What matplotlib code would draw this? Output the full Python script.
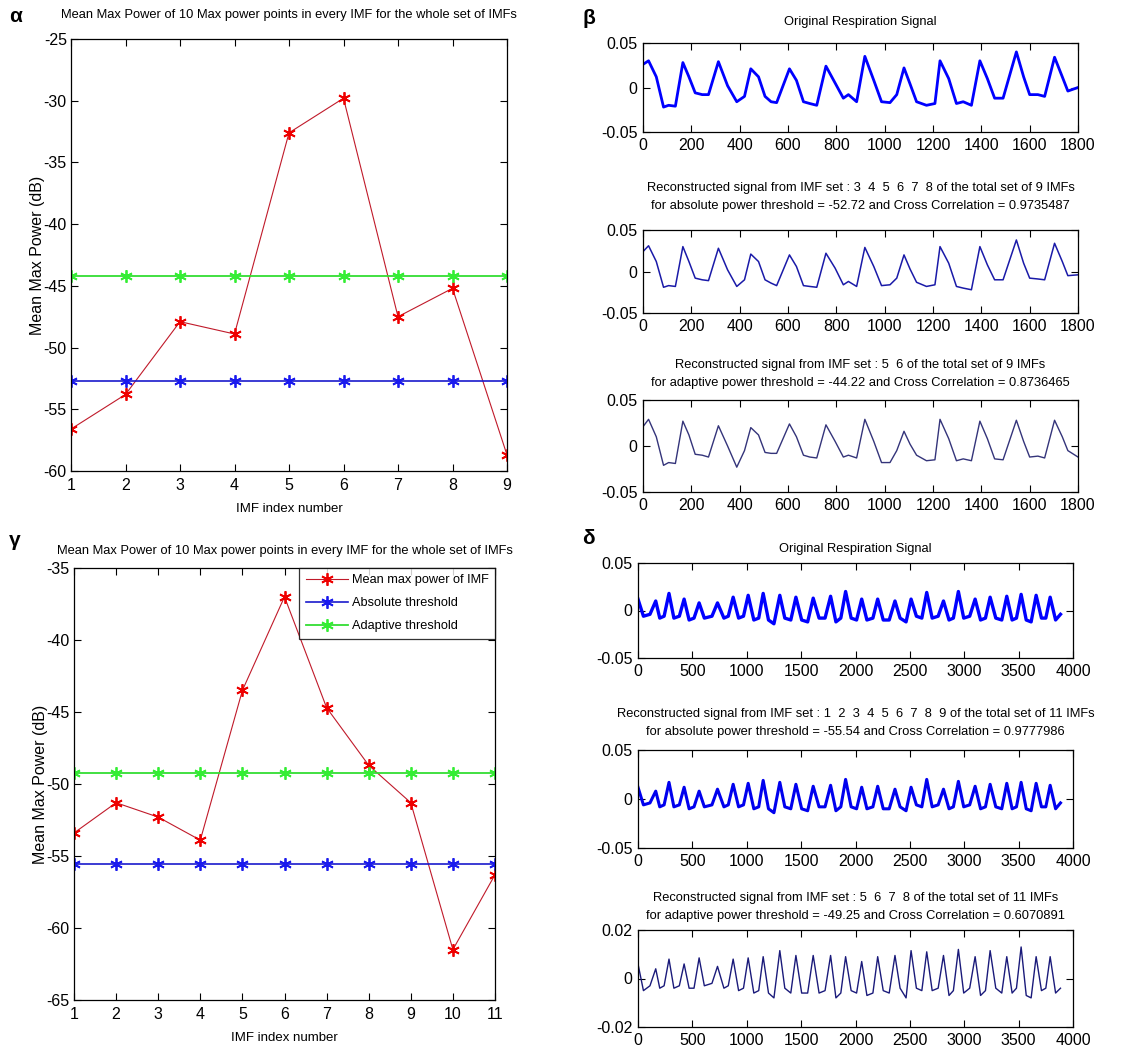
import matplotlib
matplotlib.use('Agg')
import matplotlib.pyplot as plt

plt.rcParams['font.family'] = ['Liberation Sans', 'DejaVu Sans']
plt.rcParams['axes.unicode_minus'] = False

# --- power panels (alpha / gamma) ---
imf_a = [1, 2, 3, 4, 5, 6, 7, 8, 9]
pow_a = [-56.6, -53.8, -47.9, -48.9, -32.6, -29.8, -47.5, -45.2, -58.7]
abs_a = -52.72
ada_a = -44.22

imf_g = [1, 2, 3, 4, 5, 6, 7, 8, 9, 10, 11]
pow_g = [-53.4, -51.3, -52.3, -53.9, -43.5, -37.0, -44.7, -48.7, -51.3, -61.5, -56.3]
abs_g = -55.54
ada_g = -49.25

# --- respiration signals, beta (read at shape features) ---
b_x = [0, 23, 55, 85, 106, 134, 165, 190, 216, 245, 271, 312, 350, 388, 420, 446,
       478, 505, 530, 553, 606, 635, 664, 690, 719, 757, 795, 829, 850, 884, 918,
       955, 987, 1022, 1050, 1080, 1105, 1132, 1173, 1208, 1229, 1265, 1297, 1325,
       1359, 1394, 1425, 1455, 1490, 1545, 1575, 1600, 1634, 1662, 1703, 1735, 1758, 1800]
b_orig = [0.026, 0.030, 0.012, -0.022, -0.020, -0.021, 0.028, 0.012, -0.006, -0.008,
          -0.008, 0.029, 0.002, -0.016, -0.010, 0.021, 0.012, -0.010, -0.016, -0.017,
          0.021, 0.008, -0.016, -0.018, -0.020, 0.024, 0.005, -0.012, -0.008, -0.016,
          0.035, 0.008, -0.016, -0.017, -0.008, 0.022, 0.004, -0.016, -0.020, -0.018,
          0.030, 0.010, -0.018, -0.016, -0.020, 0.030, 0.010, -0.012, -0.012, 0.040,
          0.012, -0.008, -0.008, -0.010, 0.034, 0.012, -0.004, 0.000]
b_abs = [0.024, 0.031, 0.012, -0.019, -0.017, -0.018, 0.030, 0.012, -0.008, -0.010,
         -0.011, 0.028, 0.002, -0.018, -0.010, 0.021, 0.012, -0.010, -0.014, -0.017,
         0.020, 0.006, -0.017, -0.018, -0.019, 0.022, 0.004, -0.016, -0.012, -0.018,
         0.029, 0.006, -0.017, -0.016, -0.008, 0.020, 0.003, -0.013, -0.018, -0.016,
         0.030, 0.010, -0.018, -0.020, -0.022, 0.030, 0.008, -0.010, -0.010, 0.038,
         0.010, -0.008, -0.009, -0.010, 0.034, 0.012, -0.005, -0.004]
b_ada = [0.021, 0.029, 0.010, -0.021, -0.018, -0.019, 0.027, 0.012, -0.009, -0.010,
         -0.012, 0.022, 0.000, -0.023, -0.005, 0.020, 0.012, -0.007, -0.008, -0.008,
         0.024, 0.010, -0.010, -0.012, -0.013, 0.023, 0.005, -0.012, -0.010, -0.013,
         0.029, 0.005, -0.018, -0.018, -0.005, 0.016, 0.002, -0.010, -0.016, -0.015,
         0.029, 0.008, -0.016, -0.014, -0.016, 0.027, 0.008, -0.014, -0.015, 0.028,
         0.005, -0.012, -0.011, -0.013, 0.028, 0.010, -0.005, -0.012]

# --- respiration signals, delta ---
d_x = [0, 50, 110, 163, 200, 240, 285, 330, 380, 424, 470, 515, 562, 610, 680, 731,
       790, 830, 875, 925, 970, 1013, 1065, 1110, 1151, 1200, 1250, 1304, 1350, 1405,
       1452, 1505, 1560, 1611, 1665, 1720, 1771, 1820, 1865, 1909, 1960, 2010, 2057,
       2105, 2160, 2204, 2255, 2310, 2363, 2410, 2465, 2511, 2560, 2610, 2655, 2705,
       2760, 2809, 2860, 2900, 2946, 2995, 3050, 3100, 3150, 3195, 3238, 3290, 3345,
       3391, 3440, 3480, 3523, 3570, 3615, 3661, 3710, 3750, 3790, 3840, 3885]
d_orig = [0.012, -0.006, -0.004, 0.010, -0.008, -0.006, 0.018, -0.008, -0.006, 0.012,
          -0.010, -0.008, 0.008, -0.008, -0.006, 0.008, -0.008, -0.006, 0.014, -0.008,
          -0.006, 0.016, -0.010, -0.008, 0.018, -0.010, -0.014, 0.016, -0.008, -0.010,
          0.014, -0.010, -0.012, 0.013, -0.008, -0.008, 0.015, -0.012, -0.008, 0.020,
          -0.008, -0.010, 0.012, -0.010, -0.008, 0.012, -0.010, -0.010, 0.010, -0.008,
          -0.012, 0.012, -0.006, -0.008, 0.019, -0.008, -0.006, 0.010, -0.010, -0.008,
          0.020, -0.008, -0.006, 0.012, -0.010, -0.008, 0.014, -0.008, -0.010, 0.015,
          -0.010, -0.008, 0.017, -0.010, -0.012, 0.016, -0.008, -0.008, 0.014, -0.010, -0.004]
d_abs = [0.012, -0.006, -0.004, 0.008, -0.008, -0.006, 0.017, -0.008, -0.006, 0.012,
         -0.010, -0.008, 0.008, -0.008, -0.006, 0.010, -0.008, -0.006, 0.015, -0.008,
         -0.006, 0.016, -0.010, -0.008, 0.019, -0.010, -0.014, 0.017, -0.008, -0.010,
         0.015, -0.010, -0.012, 0.013, -0.008, -0.008, 0.014, -0.012, -0.008, 0.020,
         -0.008, -0.010, 0.012, -0.010, -0.008, 0.013, -0.010, -0.010, 0.010, -0.008,
         -0.012, 0.012, -0.006, -0.008, 0.020, -0.008, -0.006, 0.010, -0.010, -0.008,
         0.018, -0.008, -0.006, 0.013, -0.010, -0.008, 0.015, -0.008, -0.010, 0.016,
         -0.010, -0.008, 0.017, -0.010, -0.012, 0.016, -0.008, -0.008, 0.014, -0.010, -0.004]
d_ada = [0.006, -0.005, -0.003, 0.004, -0.004, -0.003, 0.008, -0.004, -0.003, 0.006,
         -0.004, -0.004, 0.0085, -0.003, -0.002, 0.005, -0.004, -0.003, 0.008, -0.005,
         -0.004, 0.0085, -0.006, -0.005, 0.009, -0.006, -0.008, 0.0115, -0.004, -0.006,
         0.0095, -0.006, -0.006, 0.0095, -0.006, -0.005, 0.0095, -0.008, -0.006, 0.009,
         -0.005, -0.006, 0.007, -0.007, -0.006, 0.009, -0.005, -0.006, 0.0095, -0.004,
         -0.008, 0.0115, -0.004, -0.005, 0.011, -0.005, -0.004, 0.0095, -0.007, -0.005,
         0.012, -0.006, -0.004, 0.009, -0.007, -0.005, 0.0115, -0.004, -0.006, 0.009,
         -0.006, -0.004, 0.013, -0.007, -0.008, 0.009, -0.005, -0.004, 0.009, -0.006, -0.004]

title_pow = 'Mean Max Power of 10 Max power points in every IMF for the whole set of IMFs'

W, H = 1121, 1050
fig = plt.figure(figsize=(W / 100, H / 100), dpi=100)
STAR = (6, 2, 0)  # matlab-like asterisk


def box(x0, y0, x1, y1):
    # pixel box (top-left origin) -> figure fraction
    return [x0 / W, 1 - y1 / H, (x1 - x0) / W, (y1 - y0) / H]


def matlab_axes(ax, fs, pad=3):
    ax.tick_params(direction='in', top=True, right=True, length=5, width=0.8,
                   labelsize=fs, pad=pad)
    for s in ax.spines.values():
        s.set_linewidth(0.9)


def power_panel(rect, imf, pw, thr_abs, thr_ada, ylim, tpad, legend):
    ax = fig.add_axes(rect)
    ax.plot(imf, pw, color='#c01a2a', lw=0.8, marker=STAR, ms=9, mew=1.3,
            mec='#ee0000', label='Mean max power of IMF')
    ax.plot(imf, [thr_abs] * len(imf), color='#1a1acc', lw=1.2, marker=STAR, ms=9,
            mew=1.3, mec='#1a1aee', label='Absolute threshold')
    ax.plot(imf, [thr_ada] * len(imf), color='#33dd33', lw=1.3, marker=STAR, ms=9,
            mew=1.3, mec='#33ee33', label='Adaptive threshold')
    ax.set_xlim(imf[0], imf[-1])
    ax.set_ylim(*ylim)
    ax.set_xticks(imf)
    ax.set_yticks(range(ylim[0], ylim[1] + 1, 5))
    matlab_axes(ax, 11.5, pad=5)
    ax.tick_params(axis='y', pad=3)
    ax.set_title(title_pow, fontsize=9.3, pad=tpad)
    ax.set_xlabel('IMF index number', fontsize=9.5, labelpad=7)
    ax.set_ylabel('Mean Max Power (dB)', fontsize=11.5, labelpad=-1)
    if legend:
        lg = ax.legend(loc='upper right', borderaxespad=0, fancybox=False,
                       edgecolor='black', fontsize=9.2, handlelength=3.3,
                       borderpad=0.5, labelspacing=0.85, handletextpad=0.3)
        lg.get_frame().set_linewidth(0.9)
    return ax


def signal_panel(rect, x, y, xmax, xstep, ylim, title, tpad, color, lw):
    ax = fig.add_axes(rect)
    ax.plot(x, y, color=color, lw=lw)
    ax.set_xlim(0, xmax)
    ax.set_ylim(-ylim, ylim)
    ax.set_xticks(range(0, xmax + 1, xstep))
    ax.set_yticks([-ylim, 0, ylim])
    ax.set_yticklabels(['-%g' % ylim, '0', '%g' % ylim])
    matlab_axes(ax, 11.5, pad=4)
    ax.set_title(title, fontsize=9.3, pad=tpad, linespacing=1.65)
    return ax


power_panel(box(71, 39, 507, 471), imf_a, pow_a, abs_a, ada_a, (-60, -25), 15, False)
power_panel(box(74, 568, 495, 1000), imf_g, pow_g, abs_g, ada_g, (-65, -35), 10, True)

signal_panel(box(643, 43, 1078, 132), b_x, b_orig, 1800, 200, 0.05,
             'Original Respiration Signal', 13, '#0000ff', 2.0)
signal_panel(box(643, 230, 1078, 313), b_x, b_abs, 1800, 200, 0.05,
             'Reconstructed signal from IMF set : 3  4  5  6  7  8 of the total set of 9 IMFs\n'
             'for absolute power threshold = -52.72 and Cross Correlation = 0.9735487',
             15, '#1a1aa8', 1.1)
signal_panel(box(643, 400, 1078, 492), b_x, b_ada, 1800, 200, 0.05,
             'Reconstructed signal from IMF set : 5  6 of the total set of 9 IMFs\n'
             'for adaptive power threshold = -44.22 and Cross Correlation = 0.8736465',
             10, '#34347a', 1.0)

signal_panel(box(638, 563, 1073, 658), d_x, d_orig, 4000, 500, 0.05,
             'Original Respiration Signal', 8, '#0000ff', 2.4)
signal_panel(box(638, 750, 1073, 848), d_x, d_abs, 4000, 500, 0.05,
             'Reconstructed signal from IMF set : 1  2  3  4  5  6  7  8  9 of the total set of 11 IMFs\n'
             'for absolute power threshold = -55.54 and Cross Correlation = 0.9777986',
             11, '#0000ee', 2.2)
signal_panel(box(638, 930, 1073, 1027), d_x, d_ada, 4000, 500, 0.02,
             'Reconstructed signal from IMF set : 5  6  7  8 of the total set of 11 IMFs\n'
             'for adaptive power threshold = -49.25 and Cross Correlation = 0.6070891',
             8, '#1a1a7a', 1.0)

# panel letters
for lx, ly, s in [(9, 17, 'α'), (582, 18, 'β'), (9, 541, 'γ'), (582, 538, 'δ')]:
    fig.text(lx / W, 1 - ly / H, s, fontsize=15, fontweight='bold',
             va='center', ha='left')

fig.savefig('out.png', dpi=100)
